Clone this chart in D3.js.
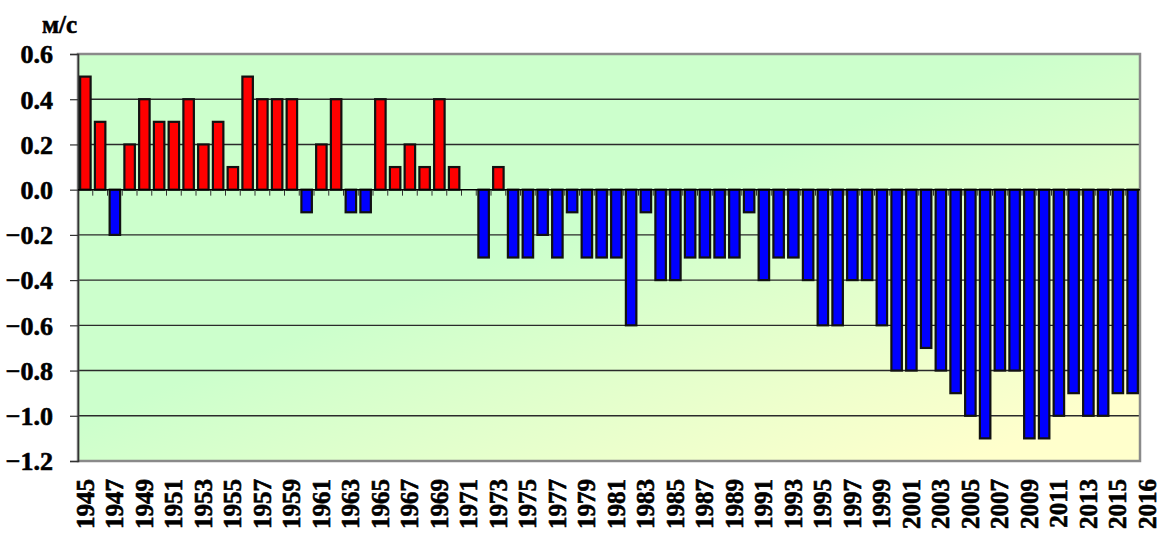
<!DOCTYPE html>
<html>
<head>
<meta charset="utf-8">
<script src="https://cdn.jsdelivr.net/npm/d3@7"></script>
<style>
  body { margin: 0; background: #fff; }
  svg { display: block; }
  svg text { font-family: "Liberation Serif", "Times New Roman", "DejaVu Serif", serif; font-weight: bold; stroke: #000; stroke-width: 0.6px; }
</style>
</head>
<body>
<svg id="chart"></svg>
<script>
// data
const years = d3.range(1945, 2017)
const values = [
  0.5, 0.3, -0.2, 0.2, 0.4, 0.3, 0.3, 0.4, 0.2, 0.3,
  0.1, 0.5, 0.4, 0.4, 0.4, -0.1, 0.2, 0.4, -0.1, -0.1,
  0.4, 0.1, 0.2, 0.1, 0.4, 0.1, 0, -0.3, 0.1, -0.3,
  -0.3, -0.2, -0.3, -0.1, -0.3, -0.3, -0.3, -0.6, -0.1, -0.4,
  -0.4, -0.3, -0.3, -0.3, -0.3, -0.1, -0.4, -0.3, -0.3, -0.4,
  -0.6, -0.6, -0.4, -0.4, -0.6, -0.8, -0.8, -0.7, -0.8, -0.9,
  -1.0, -1.1, -0.8, -0.8, -1.1, -1.1, -1.0, -0.9, -1.0, -1.0,
  -0.9, -0.9
]
const yTicks = [0.6, 0.4, 0.2, 0.0, -0.2, -0.4, -0.6, -0.8, -1.0, -1.2]
const yearLabels = years.filter(y => (y - 1945) % 2 === 0)
const lastLabel = 2016
const unit = "м/с"

const width = 1165
const height = 534
const margin = { top: 54, right: 25, bottom: 73, left: 78 }

const svg = d3.select('#chart')
  .attr('width', width)
  .attr('height', height)

const x = d3.scaleBand()
  .domain(years)
  .range([margin.left, width - margin.right])
  .paddingInner(0.29)
  .paddingOuter(0.145)

const y = d3.scaleLinear()
  .domain([-1.2, 0.6])
  .range([height - margin.bottom, margin.top])

// background gradient
const defs = svg.append('defs')
const grad = defs.append('linearGradient')
  .attr('id', 'bg')
  .attr('x1', 0).attr('y1', 0).attr('x2', 1).attr('y2', 1)
grad.append('stop').attr('offset', '0.45').attr('stop-color', '#ccffcc')
grad.append('stop').attr('offset', '0.92').attr('stop-color', '#ffffcc')

const plotW = width - margin.right - margin.left
const plotH = height - margin.bottom - margin.top

svg.append('rect')
  .attr('x', margin.left)
  .attr('y', margin.top)
  .attr('width', plotW)
  .attr('height', plotH)
  .attr('fill', 'url(#bg)')

// grid lines
svg.append('g')
  .selectAll('line')
  .data(yTicks.filter(t => t !== 0 && t !== 0.6 && t !== -1.2))
  .enter()
  .append('line')
  .attr('x1', margin.left)
  .attr('x2', width - margin.right)
  .attr('y1', d => y(d))
  .attr('y2', d => y(d))
  .attr('stroke', '#2a2a2a')
  .attr('stroke-width', 1.4)

// plot border
svg.append('rect')
  .attr('x', margin.left)
  .attr('y', margin.top)
  .attr('width', plotW)
  .attr('height', plotH)
  .attr('fill', 'none')
  .attr('stroke', '#8a8a8a')
  .attr('stroke-width', 2.5)

// y axis
const yAxis = svg.append('g')
  .attr('transform', `translate(${margin.left},0)`)
  .call(d3.axisLeft(y).tickValues(yTicks).tickFormat(d3.format('.1f')).tickSize(8).tickPadding(17))
yAxis.attr('font-family', null).attr('font-size', null)
yAxis.select('.domain').attr('stroke', '#333').attr('stroke-width', 1.5)
yAxis.selectAll('.tick line').attr('stroke', '#333').attr('stroke-width', 1.2)
yAxis.selectAll('.tick text')
  .style('font-size', '26px')
  .attr('fill', '#000')
  .attr('dy', '0.34em')

// zero axis with category ticks
const boundaries = years.slice(1).map(yr => x(yr) - x.step() * x.paddingInner() / 2)
svg.append('g')
  .selectAll('line')
  .data(boundaries)
  .enter()
  .append('line')
  .attr('x1', d => d)
  .attr('x2', d => d)
  .attr('y1', y(0))
  .attr('y2', y(0) + 6)
  .attr('stroke', '#333')
  .attr('stroke-width', 1)

// bars
svg.append('g')
  .selectAll('rect')
  .data(years.map((yr, i) => ({ year: yr, value: values[i] })).filter(d => d.value !== 0))
  .enter()
  .append('rect')
  .attr('x', d => x(d.year))
  .attr('width', x.bandwidth())
  .attr('y', d => y(Math.max(0, d.value)))
  .attr('height', d => Math.abs(y(d.value) - y(0)))
  .attr('fill', d => d.value > 0 ? '#ff0000' : '#0000ff')
  .attr('stroke', '#111')
  .attr('stroke-width', 2.2)

svg.append('line')
  .attr('x1', margin.left)
  .attr('x2', width - margin.right)
  .attr('y1', y(0))
  .attr('y2', y(0))
  .attr('stroke', '#000')
  .attr('stroke-width', 1.5)

// year labels
svg.append('g')
  .selectAll('text')
  .data(yearLabels.concat([lastLabel]))
  .enter()
  .append('text')
  .attr('transform', d => {
    const cx = x(d) + x.bandwidth() / 2 + (d === lastLabel ? x.step() : 0)
    return `translate(${cx},${height - margin.bottom + 18}) rotate(-90)`
  })
  .attr('text-anchor', 'end')
  .attr('dy', '0.34em')
  .style('font-size', '25px')
  .attr('fill', '#000')
  .text(d => d)

// unit title
svg.append('text')
  .attr('x', 42)
  .attr('y', 33)
  .style('font-size', '25px')
  .attr('fill', '#000')
  .text(unit)
</script>
</body>
</html>
